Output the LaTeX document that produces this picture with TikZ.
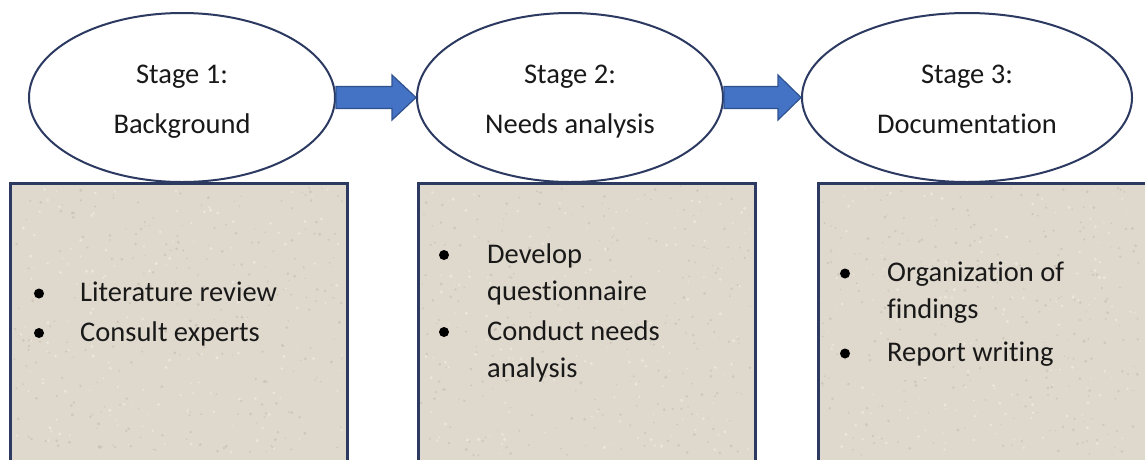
\documentclass[tikz,border=0pt]{standalone}
\usepackage{fontspec}
\setmainfont[RawFeature={-liga}]{Carlito}
\usetikzlibrary{shapes.geometric,calc}
\definecolor{navy}{RGB}{44,58,98}
\definecolor{paper}{RGB}{223,216,204}
\definecolor{speckA}{RGB}{196,188,175}
\definecolor{speckB}{RGB}{240,236,228}
\definecolor{arrowfill}{RGB}{68,114,196}
\definecolor{arrowline}{RGB}{47,82,143}
\tikzset{
  stage/.style={ellipse, draw=navy, line width=2pt, fill=white, inner sep=0pt},
  stagetext/.style={anchor=base, inner sep=0pt, font=\fontsize{28.5}{34}\selectfont, text=black!90},
  panel/.style={rectangle, draw=navy, line width=1.8pt, fill=paper, inner sep=0pt, anchor=north west},
  itemtext/.style={anchor=base west, inner sep=0pt, font=\fontsize{28.5}{34}\selectfont, text=black!90},
  bul/.style={circle, fill=black, inner sep=0pt, minimum size=10pt},
  blockarrow/.style={fill=arrowfill, draw=arrowline, line width=1.2pt, line join=miter}
}
\begin{document}
\begin{tikzpicture}[x=1pt,y=-1pt]
\useasboundingbox (0,0) rectangle (1145,459);
\clip (0,0) rectangle (1145,459);
\fill[white] (0,0) rectangle (1145,459);

% panels
\node[panel, minimum width=336pt, minimum height=300pt] (b1) at (10,183) {};
\node[panel, minimum width=336pt, minimum height=300pt] (b2) at (418,183) {};
\node[panel, minimum width=340pt, minimum height=300pt] (b3) at (818,183) {};

% speckle texture
\pgfmathsetseed{12}
\foreach \bx/\bw in {10/336, 418/336, 818/327}{
  \foreach \i in {1,...,260}{
    \pgfmathsetmacro\px{\bx+3+(\bw-6)*rnd}
    \pgfmathsetmacro\py{186+270*rnd}
    \pgfmathsetmacro\pr{0.6+1.0*rnd}
    \fill[speckA, opacity=0.6] (\px,\py) circle (\pr pt);
  }
  \foreach \i in {1,...,160}{
    \pgfmathsetmacro\px{\bx+3+(\bw-6)*rnd}
    \pgfmathsetmacro\py{186+270*rnd}
    \pgfmathsetmacro\pr{0.6+1.2*rnd}
    \fill[speckB, opacity=0.7] (\px,\py) circle (\pr pt);
  }
}
% redraw borders over speckles
\draw[navy, line width=1.8pt] (b1.south west) -- (b1.north west) -- (b1.north east) -- (b1.south east);
\draw[navy, line width=1.8pt] (b2.south west) -- (b2.north west) -- (b2.north east) -- (b2.south east);
\draw[navy, line width=1.8pt] (b3.south west) -- (b3.north west) -- (b3.north east) -- (b3.south east);

% stage ellipses
\node[stage, minimum width=306pt, minimum height=169pt] (e1) at (182,97.5) {};
\node[stage, minimum width=306pt, minimum height=169pt] (e2) at (570,97.5) {};
\node[stage, minimum width=330pt, minimum height=169pt] (e3) at (967,97.5) {};

\node[stagetext] (e1a) at (182,83) {Stage 1:};
\node[stagetext] (e1b) at (182,133) {Background};
\node[stagetext] (e2a) at (570,83) {Stage 2:};
\node[stagetext] (e2b) at (570,133) {Needs analysis};
\node[stagetext] (e3a) at (967,83) {Stage 3:};
\node[stagetext] (e3b) at (967,133) {Documentation};

% block arrows
\draw[blockarrow] ($(e1.east)+(0,-11)$) -- ($(e2.west)+(-24,-11)$) -- ($(e2.west)+(-24,-22.5)$)
  -- (e2.west) -- ($(e2.west)+(-24,22.5)$) -- ($(e2.west)+(-24,11)$) -- ($(e1.east)+(0,11)$) -- cycle;
\draw[blockarrow] ($(e2.east)+(0,-11)$) -- ($(e3.west)+(-23,-11)$) -- ($(e3.west)+(-23,-22.5)$)
  -- (e3.west) -- ($(e3.west)+(-23,22.5)$) -- ($(e3.west)+(-23,11)$) -- ($(e2.east)+(0,11)$) -- cycle;

% panel 1 items
\node[bul] (p1b1) at (39,293.5) {};
\node[itemtext] (p1t1) at (80,301.5) {Literature review};
\node[bul] (p1b2) at (39,333) {};
\node[itemtext] (p1t2) at (80,341) {Consult experts};

% panel 2 items
\node[bul] (p2b1) at (444,255) {};
\node[itemtext] (p2t1) at (487,263) {Develop};
\node[itemtext] (p2t2) at (487,300.5) {questionnaire};
\node[bul] (p2b2) at (444,332) {};
\node[itemtext] (p2t3) at (487,340) {Conduct needs};
\node[itemtext] (p2t4) at (487,377.5) {analysis};

% panel 3 items
\node[bul] (p3b1) at (845,273.5) {};
\node[itemtext] (p3t1) at (887,281.5) {Organization of};
\node[itemtext] (p3t2) at (887,318.5) {findings};
\node[bul] (p3b2) at (845,353.5) {};
\node[itemtext] (p3t3) at (887,361.5) {Report writing};
\end{tikzpicture}
\end{document}
